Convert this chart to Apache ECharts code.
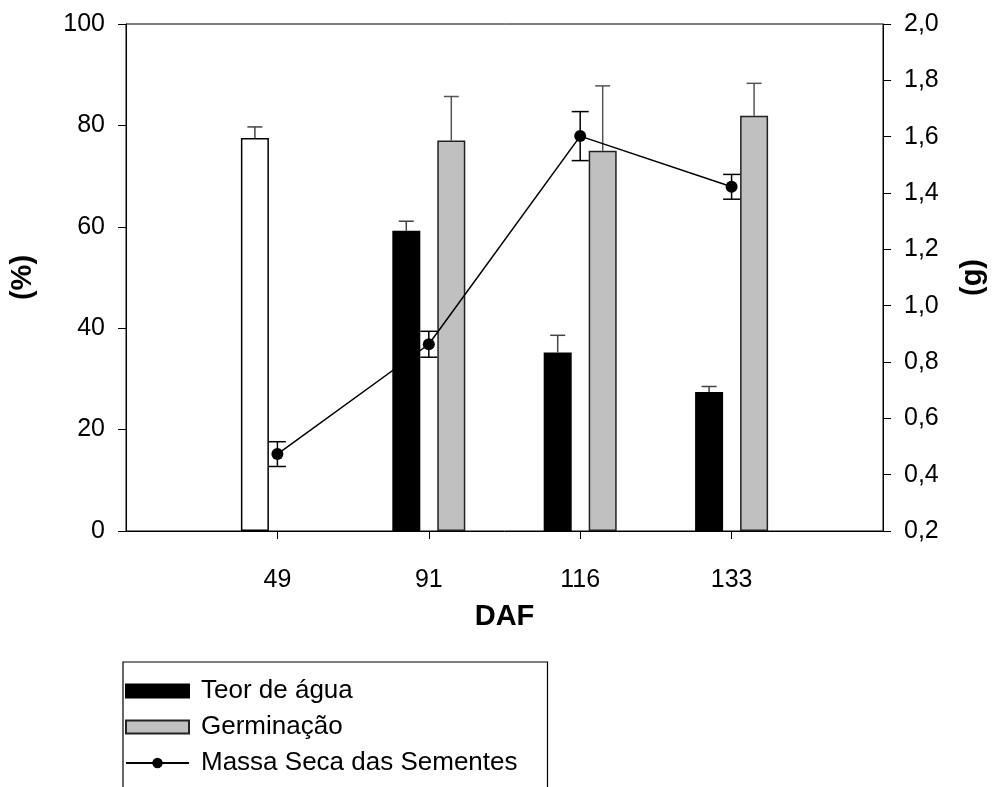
<!DOCTYPE html>
<html>
<head>
<meta charset="utf-8">
<script src="https://cdn.jsdelivr.net/npm/echarts@6/dist/echarts.min.js"></script>
<style>html,body{margin:0;padding:0;background:#fff;}#c{width:995px;height:787px;}</style>
</head>
<body>
<div id="c"></div>
<script>
// ---- data ----
const categories = ['49', '91', '116', '133'];
const teorAgua = [77.5, 59.2, 35.2, 27.4];
const teorAguaErr = [2.2, 1.9, 3.4, 1.1];
const germinacao = [null, 77.0, 75.0, 81.9];
const germinacaoErr = [null, 8.7, 12.8, 6.4];
const massaSeca = [0.473, 0.863, 1.602, 1.422];
const massaSecaErr = [0.044, 0.046, 0.087, 0.044];
const leftTicks = { min: 0, max: 100, interval: 20 };
const rightTicks = { min: 0.2, max: 2.0, interval: 0.2 };

// ---- build ----
const FONT = 'Liberation Sans';
const axisCats = [''].concat(categories, ['']);
const pad = arr => [null].concat(arr, [null]);
const BAR_W = 28, BAR_GAP = 17;
const OFF = (BAR_W + BAR_GAP) / 2;

const teorData = pad(teorAgua).map((v, i) => v == null ? '-' :
  (i === 1 ? { value: v, itemStyle: { color: '#ffffff' } } : v));
const germData = pad(germinacao).map(v => v == null ? '-' : v);
const massData = pad(massaSeca).map(v => v == null ? '-' : v);

function errData(vals, errs) {
  const out = [];
  vals.forEach((v, i) => { if (v != null && errs[i] != null) out.push([i + 1, v, errs[i]]); });
  return out;
}

function barErr(offset, color, capW) {
  return function (params, api) {
    const idx = api.value(0), v = api.value(1), e = api.value(2);
    const p0 = api.coord([idx, v]);
    const p1 = api.coord([idx, v + e]);
    const x = p0[0] + offset;
    return {
      type: 'group',
      children: [
        { type: 'line', shape: { x1: x, y1: p0[1], x2: x, y2: p1[1] }, style: { stroke: color, lineWidth: 1.5 } },
        { type: 'line', shape: { x1: x - capW / 2, y1: p1[1], x2: x + capW / 2, y2: p1[1] }, style: { stroke: color, lineWidth: 1.5 } }
      ]
    };
  };
}
function lineErr(params, api) {
  const idx = api.value(0), v = api.value(1), e = api.value(2);
  const pt = api.coord([idx, v + e]);
  const pb = api.coord([idx, v - e]);
  const x = pt[0], capW = 17;
  const st = { stroke: '#000', lineWidth: 1.5 };
  return {
    type: 'group',
    children: [
      { type: 'line', shape: { x1: x, y1: pt[1], x2: x, y2: pb[1] }, style: st },
      { type: 'line', shape: { x1: x - capW / 2, y1: pt[1], x2: x + capW / 2, y2: pt[1] }, style: st },
      { type: 'line', shape: { x1: x - capW / 2, y1: pb[1], x2: x + capW / 2, y2: pb[1] }, style: st }
    ]
  };
}

const chart = echarts.init(document.getElementById('c'), null, { renderer: 'canvas' });
const txt = { color: '#000', fontFamily: FONT, fontSize: 25 };
const nameTxt = { color: '#000', fontFamily: FONT, fontSize: 29, fontWeight: 'bold' };

chart.setOption({
  animation: false,
  backgroundColor: '#fff',
  grid: { left: 126, right: 110, top: 24, bottom: 256, show: true, borderColor: '#000', borderWidth: 1, backgroundColor: 'transparent' },
  legend: {
    orient: 'vertical', left: 123, top: 662, height: 400,
    padding: [16, 30, 20, 2],
    borderColor: '#000', borderWidth: 1.2,
    itemWidth: 63, itemHeight: 13, itemGap: 10,
    textStyle: { color: '#000', fontFamily: FONT, fontSize: 26, padding: [0, 0, 0, 7] },
    data: [
      { name: 'Teor de água', icon: 'rect' },
      { name: 'Germinação', icon: 'rect' },
      { name: 'Massa Seca das Sementes' }
    ]
  },
  xAxis: {
    type: 'category', data: axisCats, boundaryGap: false,
    name: 'DAF', nameLocation: 'middle', nameGap: 71, nameTextStyle: nameTxt,
    axisLine: { lineStyle: { color: '#000', width: 1 } },
    axisTick: { length: 8, lineStyle: { color: '#000' }, interval: (i) => i > 0 && i < axisCats.length - 1 },
    axisLabel: Object.assign({ margin: 37, interval: 0 }, txt),
    splitLine: { show: false }
  },
  yAxis: [
    {
      type: 'value', min: leftTicks.min, max: leftTicks.max, interval: leftTicks.interval,
      name: '(%)', nameLocation: 'middle', nameGap: 89, nameRotate: 90, nameTextStyle: nameTxt,
      axisLine: { show: true, lineStyle: { color: '#000' } },
      axisTick: { show: true, length: 8, lineStyle: { color: '#000' } },
      axisLabel: Object.assign({ margin: 21 }, txt),
      splitLine: { show: false }
    },
    {
      type: 'value', min: rightTicks.min, max: rightTicks.max, interval: rightTicks.interval, position: 'right',
      name: '(g)', nameLocation: 'middle', nameGap: 75, nameRotate: 90, nameTextStyle: nameTxt,
      axisLine: { show: true, lineStyle: { color: '#000' } },
      axisTick: { show: true, length: 8, lineStyle: { color: '#000' } },
      axisLabel: Object.assign({ margin: 21, formatter: v => v.toFixed(1).replace('.', ',') }, txt),
      splitLine: { show: false }
    }
  ],
  series: [
    {
      name: 'Teor de água', type: 'bar', data: teorData, barWidth: BAR_W, barGap: (BAR_GAP / BAR_W * 100).toFixed(1) + '%',
      itemStyle: { color: '#000', borderColor: '#000', borderWidth: 1.5 }, z: 2
    },
    {
      name: 'Germinação', type: 'bar', data: germData, barWidth: BAR_W,
      itemStyle: { color: '#c0c0c0', borderColor: '#222', borderWidth: 1.5 }, z: 2
    },
    {
      type: 'custom', renderItem: barErr(-OFF, '#444', 15), data: errData(teorAgua, teorAguaErr), z: 3, silent: true
    },
    {
      type: 'custom', renderItem: barErr(OFF, '#555', 15), data: errData(germinacao, germinacaoErr), z: 3, silent: true
    },
    {
      name: 'Massa Seca das Sementes', type: 'line', yAxisIndex: 1, data: massData,
      lineStyle: { color: '#000', width: 1.5 }, itemStyle: { color: '#000' },
      symbol: 'circle', symbolSize: 12, connectNulls: true, z: 5
    },
    {
      type: 'custom', yAxisIndex: 1, renderItem: lineErr, data: errData(massaSeca, massaSecaErr), z: 4, silent: true
    }
  ]
});
</script>
</body>
</html>
